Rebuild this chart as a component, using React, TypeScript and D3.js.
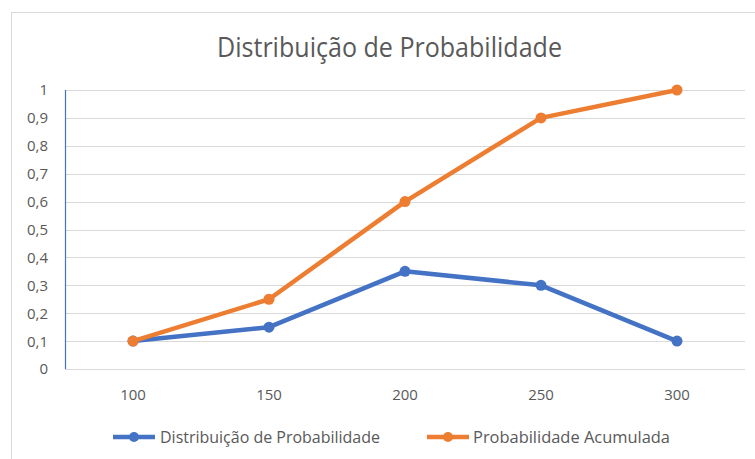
import React from "react";
import * as d3 from "d3";

const categories = ["100", "150", "200", "250", "300"];
const distribuicao = [0.1, 0.15, 0.35, 0.3, 0.1];
const acumulada = [0.1, 0.25, 0.6, 0.9, 1.0];
const yTicks = [0, 0.1, 0.2, 0.3, 0.4, 0.5, 0.6, 0.7, 0.8, 0.9, 1];
const seriesNames = ["Distribuição de Probabilidade", "Probabilidade Acumulada"];
const colors = ["#4472c4", "#ed7d31"];

const W = 755;
const H = 459;
const FONT = "'Open Sans', 'Noto Sans', sans-serif";

export default function App() {
  const x = d3.scaleBand<string>().domain(categories).range([65, 745]);
  const y = d3.scaleLinear().domain([0, 1]).range([369, 90]);
  const cx = (i: number) => (x(categories[i]) as number) + x.bandwidth() / 2;
  const line = d3
    .line<number>()
    .x((_, i) => cx(i))
    .y((d) => y(d));
  const fmt = (v: number) => (v === 0 || v === 1 ? String(v) : v.toFixed(1).replace(".", ","));
  const series = [distribuicao, acumulada];
  const legendX = [113, 427];
  const legendTextX = [160, 473];
  const legendTextW = [220, 197];

  return (
    <svg
      width={W}
      height={H}
      style={{ position: "absolute", left: 0, top: 0, background: "#fff" }}
    >
      <rect x={11.5} y={12.5} width={W} height={H} fill="#fff" stroke="#d9d9d9" strokeWidth={1} />
      <text
        x={217}
        y={57}
        fontFamily={FONT}
        fontSize={27}
        fill="#595959"
        textLength={345}
        lengthAdjust="spacingAndGlyphs"
      >
        Distribuição de Probabilidade
      </text>
      {yTicks.map((t) => (
        <g key={t}>
          <line x1={65} x2={745} y1={Math.round(y(t)) + 0.5} y2={Math.round(y(t)) + 0.5} stroke="#d9d9d9" strokeWidth={1} />
          <text
            x={48}
            y={y(t)}
            dy="0.36em"
            textAnchor="end"
            fontFamily={FONT}
            fontSize={15}
            fill="#595959"
          >
            {fmt(t)}
          </text>
        </g>
      ))}
      <line x1={65.5} x2={65.5} y1={90} y2={369} stroke="#4472c4" strokeWidth={1.2} />
      {categories.map((c, i) => (
        <text
          key={c}
          x={cx(i)}
          y={400}
          textAnchor="middle"
          fontFamily={FONT}
          fontSize={15}
          fill="#595959"
        >
          {c}
        </text>
      ))}
      {series.map((s, si) => (
        <g key={si}>
          <path d={line(s) as string} fill="none" stroke={colors[si]} strokeWidth={4.5} strokeLinejoin="round" />
          {s.map((v, i) => (
            <circle key={i} cx={cx(i)} cy={y(v)} r={5.5} fill={colors[si]} />
          ))}
        </g>
      ))}
      {seriesNames.map((n, si) => (
        <g key={n}>
          <line x1={legendX[si]} x2={legendX[si] + 42} y1={437} y2={437} stroke={colors[si]} strokeWidth={4.5} />
          <circle cx={legendX[si] + 21} cy={437} r={5} fill={colors[si]} />
          <text
            x={legendTextX[si]}
            y={437}
            dy="0.36em"
            fontFamily={FONT}
            fontSize={16}
            fill="#595959"
            textLength={legendTextW[si]}
            lengthAdjust="spacingAndGlyphs"
          >
            {n}
          </text>
        </g>
      ))}
    </svg>
  );
}
